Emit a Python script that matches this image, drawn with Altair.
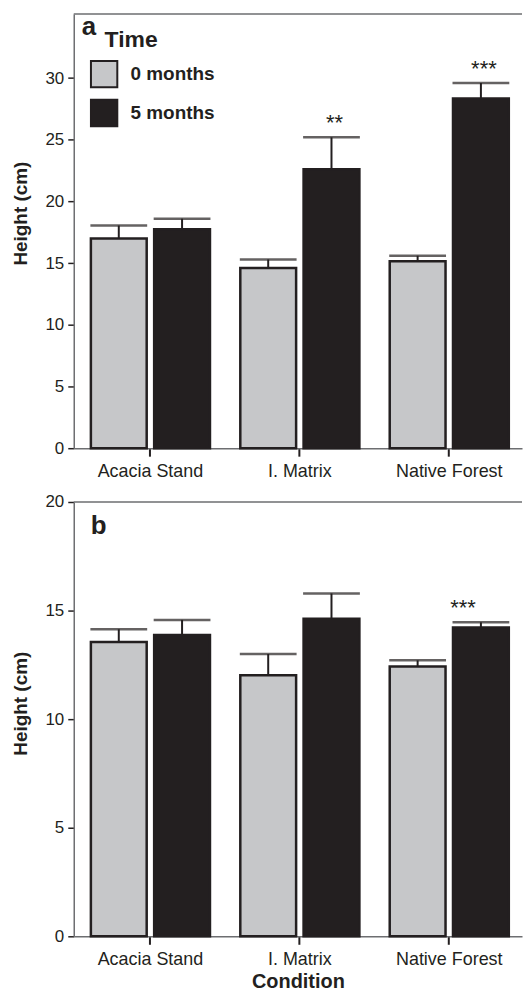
import altair as alt
import pandas as pd

# ---------------- data ----------------
categories = ["Acacia Stand", "I. Matrix", "Native Forest"]
times = ["0 months", "5 months"]

a_mean_0 = [17.0, 14.6, 15.15]
a_mean_5 = [17.75, 22.6, 28.35]
a_se_0 = [1.05, 0.7, 0.45]
a_se_5 = [0.85, 2.6, 1.25]
a_sig_5 = ["", "**", "***"]

b_mean_0 = [13.55, 12.02, 12.43]
b_mean_5 = [13.88, 14.62, 14.22]
b_se_0 = [0.59, 0.98, 0.28]
b_se_5 = [0.69, 1.17, 0.24]
b_sig_5 = ["", "", "***"]

a_ticks = [0, 5, 10, 15, 20, 25, 30]
b_ticks = [0, 5, 10, 15, 20]

INK = "#231f20"
GRAY = "#c6c7c9"
AXIS_GREY = "#6d6e71"
FONT = "Liberation Sans"


def frame(m0, m5, s0, s5, sig5):
    rows = []
    for i, c in enumerate(categories):
        rows.append(dict(cond=c, time=times[0], mean=m0[i], upper=m0[i] + s0[i], sig=""))
        rows.append(dict(cond=c, time=times[1], mean=m5[i], upper=m5[i] + s5[i], sig=sig5[i]))
    return pd.DataFrame(rows)


def panel(df, ymax, yticks, height, letter, letter_x, letter_y, xtitle, legend,
          star_dx, title_y, with_time=False):
    x = alt.X("cond:N", sort=categories,
              scale=alt.Scale(paddingInner=0.203, paddingOuter=0.1015, align=0.565),
              axis=alt.Axis(title=xtitle, labelAngle=0, tickSize=8, tickWidth=2,
                            tickColor=INK, domainColor=AXIS_GREY, domainWidth=1.5,
                            labelFontSize=18, labelPadding=6, labelColor=INK,
                            labelFont=FONT, titleFont=FONT, titleFontSize=20,
                            titleFontWeight="bold", titleColor=INK, titlePadding=3))
    xo = alt.XOffset("time:N", sort=times, scale=alt.Scale(paddingInner=0.118))
    y = alt.Y("mean:Q", scale=alt.Scale(domain=[0, ymax], nice=False, zero=True),
              axis=alt.Axis(values=yticks, title="Height (cm)", titleY=title_y,
                            grid=False, tickSize=6, tickWidth=1.5, tickColor=INK,
                            domainColor=AXIS_GREY, domainWidth=1.5,
                            labelFontSize=17, labelPadding=4, labelColor=INK,
                            labelFont=FONT, titleFont=FONT, titleFontSize=19,
                            titleFontWeight="bold", titleColor=INK, titlePadding=15))
    base = alt.Chart(df)
    one = alt.Chart(pd.DataFrame({"t": [letter]}))

    top = one.mark_rule(color=AXIS_GREY, strokeWidth=1.5).encode(y=alt.datum(ymax))
    bars = base.mark_bar(stroke=INK, strokeWidth=2.5).encode(
        x=x, xOffset=xo, y=y,
        color=alt.Color("time:N", sort=times,
                        scale=alt.Scale(domain=times, range=[GRAY, INK]),
                        legend=legend))
    err = base.mark_rule(color=INK, strokeWidth=2).encode(
        x=x, xOffset=xo, y="mean:Q", y2="upper:Q")
    cap = base.mark_tick(color=INK, thickness=2.5, size=57).encode(
        x=x, xOffset=xo, y="upper:Q")
    stars = base.transform_filter("datum.sig != ''").mark_text(
        font=FONT, fontSize=22, color=INK, baseline="alphabetic", dy=-7, dx=star_dx
    ).encode(x=x, xOffset=xo, y="upper:Q", text="sig:N")
    lab = one.mark_text(font=FONT, fontSize=26, fontWeight="bold", color=INK,
                        align="left", baseline="alphabetic").encode(
        text="t:N", x=alt.value(letter_x), y=alt.value(letter_y))
    layers = [top, bars, err, cap, stars, lab]
    if with_time:
        tm = alt.Chart(pd.DataFrame({"t": ["Time"]})).mark_text(
            font=FONT, fontSize=23, fontWeight="bold", color=INK,
            align="left", baseline="alphabetic").encode(
            text="t:N", x=alt.value(31), y=alt.value(33))
        layers.append(tm)
    return alt.layer(*layers).properties(width=450, height=height)


legend_a = alt.Legend(orient="none", legendX=16, legendY=46, title=None,
                      symbolType="square", symbolSize=700,
                      symbolStrokeColor=INK, symbolStrokeWidth=2,
                      symbolOpacity=1,
                      labelFontSize=19, labelFontWeight="bold", labelFont=FONT,
                      labelColor=INK, labelOffset=12, rowPadding=4, padding=0)

pa = panel(frame(a_mean_0, a_mean_5, a_se_0, a_se_5, a_sig_5), 35.2, a_ticks, 436,
           "a", 8, 21, None, legend_a, 3, 200, with_time=True)
pb = panel(frame(b_mean_0, b_mean_5, b_se_0, b_se_5, b_sig_5), 20, b_ticks, 436,
           "b", 17, 32, "Condition", None, -18, 202)

chart = alt.vconcat(pa, pb, spacing=54, bounds="flush").resolve_scale(
    x="independent", y="independent", color="independent"
).properties(
    padding={"left": 3, "top": 3, "right": 0, "bottom": 0}
).configure(font=FONT).configure_view(stroke=None)

chart.save("out.html", embed_options={"renderer": "svg", "actions": False})
